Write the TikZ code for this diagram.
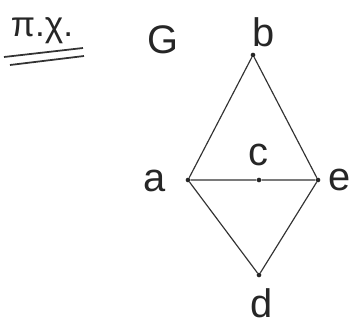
\documentclass[tikz,border=0pt]{standalone}
\usepackage{fontspec}
\setmainfont{Liberation Sans}
\begin{document}
\begin{tikzpicture}[x=0.03cm,y=-0.03cm,
  vtx/.style={circle,fill=black!85,inner sep=0pt,minimum size=4pt},
  edge/.style={draw=black!80,line width=1pt},
  lbl/.style={font=\fontsize{34}{36}\selectfont,text=black!85,inner sep=0pt}]
\useasboundingbox (0,0) rectangle (353,325);
\node[vtx] (b) at (253,55) {};
\node[vtx] (a) at (188,180) {};
\node[vtx] (c) at (259,180) {};
\node[vtx] (e) at (318,180) {};
\node[vtx] (d) at (259,275) {};
\draw[edge] (b) -- (a) (b) -- (e) (a) -- (c) -- (e) (a) -- (d) (e) -- (d);
\node[lbl] (lb) at (264,32) {b};
\node[lbl] (la) at (155,181) {a};
\node[lbl] (lc) at (258,155) {c};
\node[lbl] (le) at (340,180) {e};
\node[lbl] (ld) at (262,303) {d};
\node[lbl] (lG) at (163,40) {G};
\node[lbl,font=\fontsize{30}{32}\selectfont] (px) at (42,31) {π.χ.};
\coordinate (u1a) at (4,57); \coordinate (u1b) at (83,48);
\coordinate (u2a) at (10,65); \coordinate (u2b) at (84,56);
\draw[edge,line width=1.5pt] (u1a) -- (u1b);
\draw[edge,line width=1.5pt] (u2a) -- (u2b);
\end{tikzpicture}
\end{document}
